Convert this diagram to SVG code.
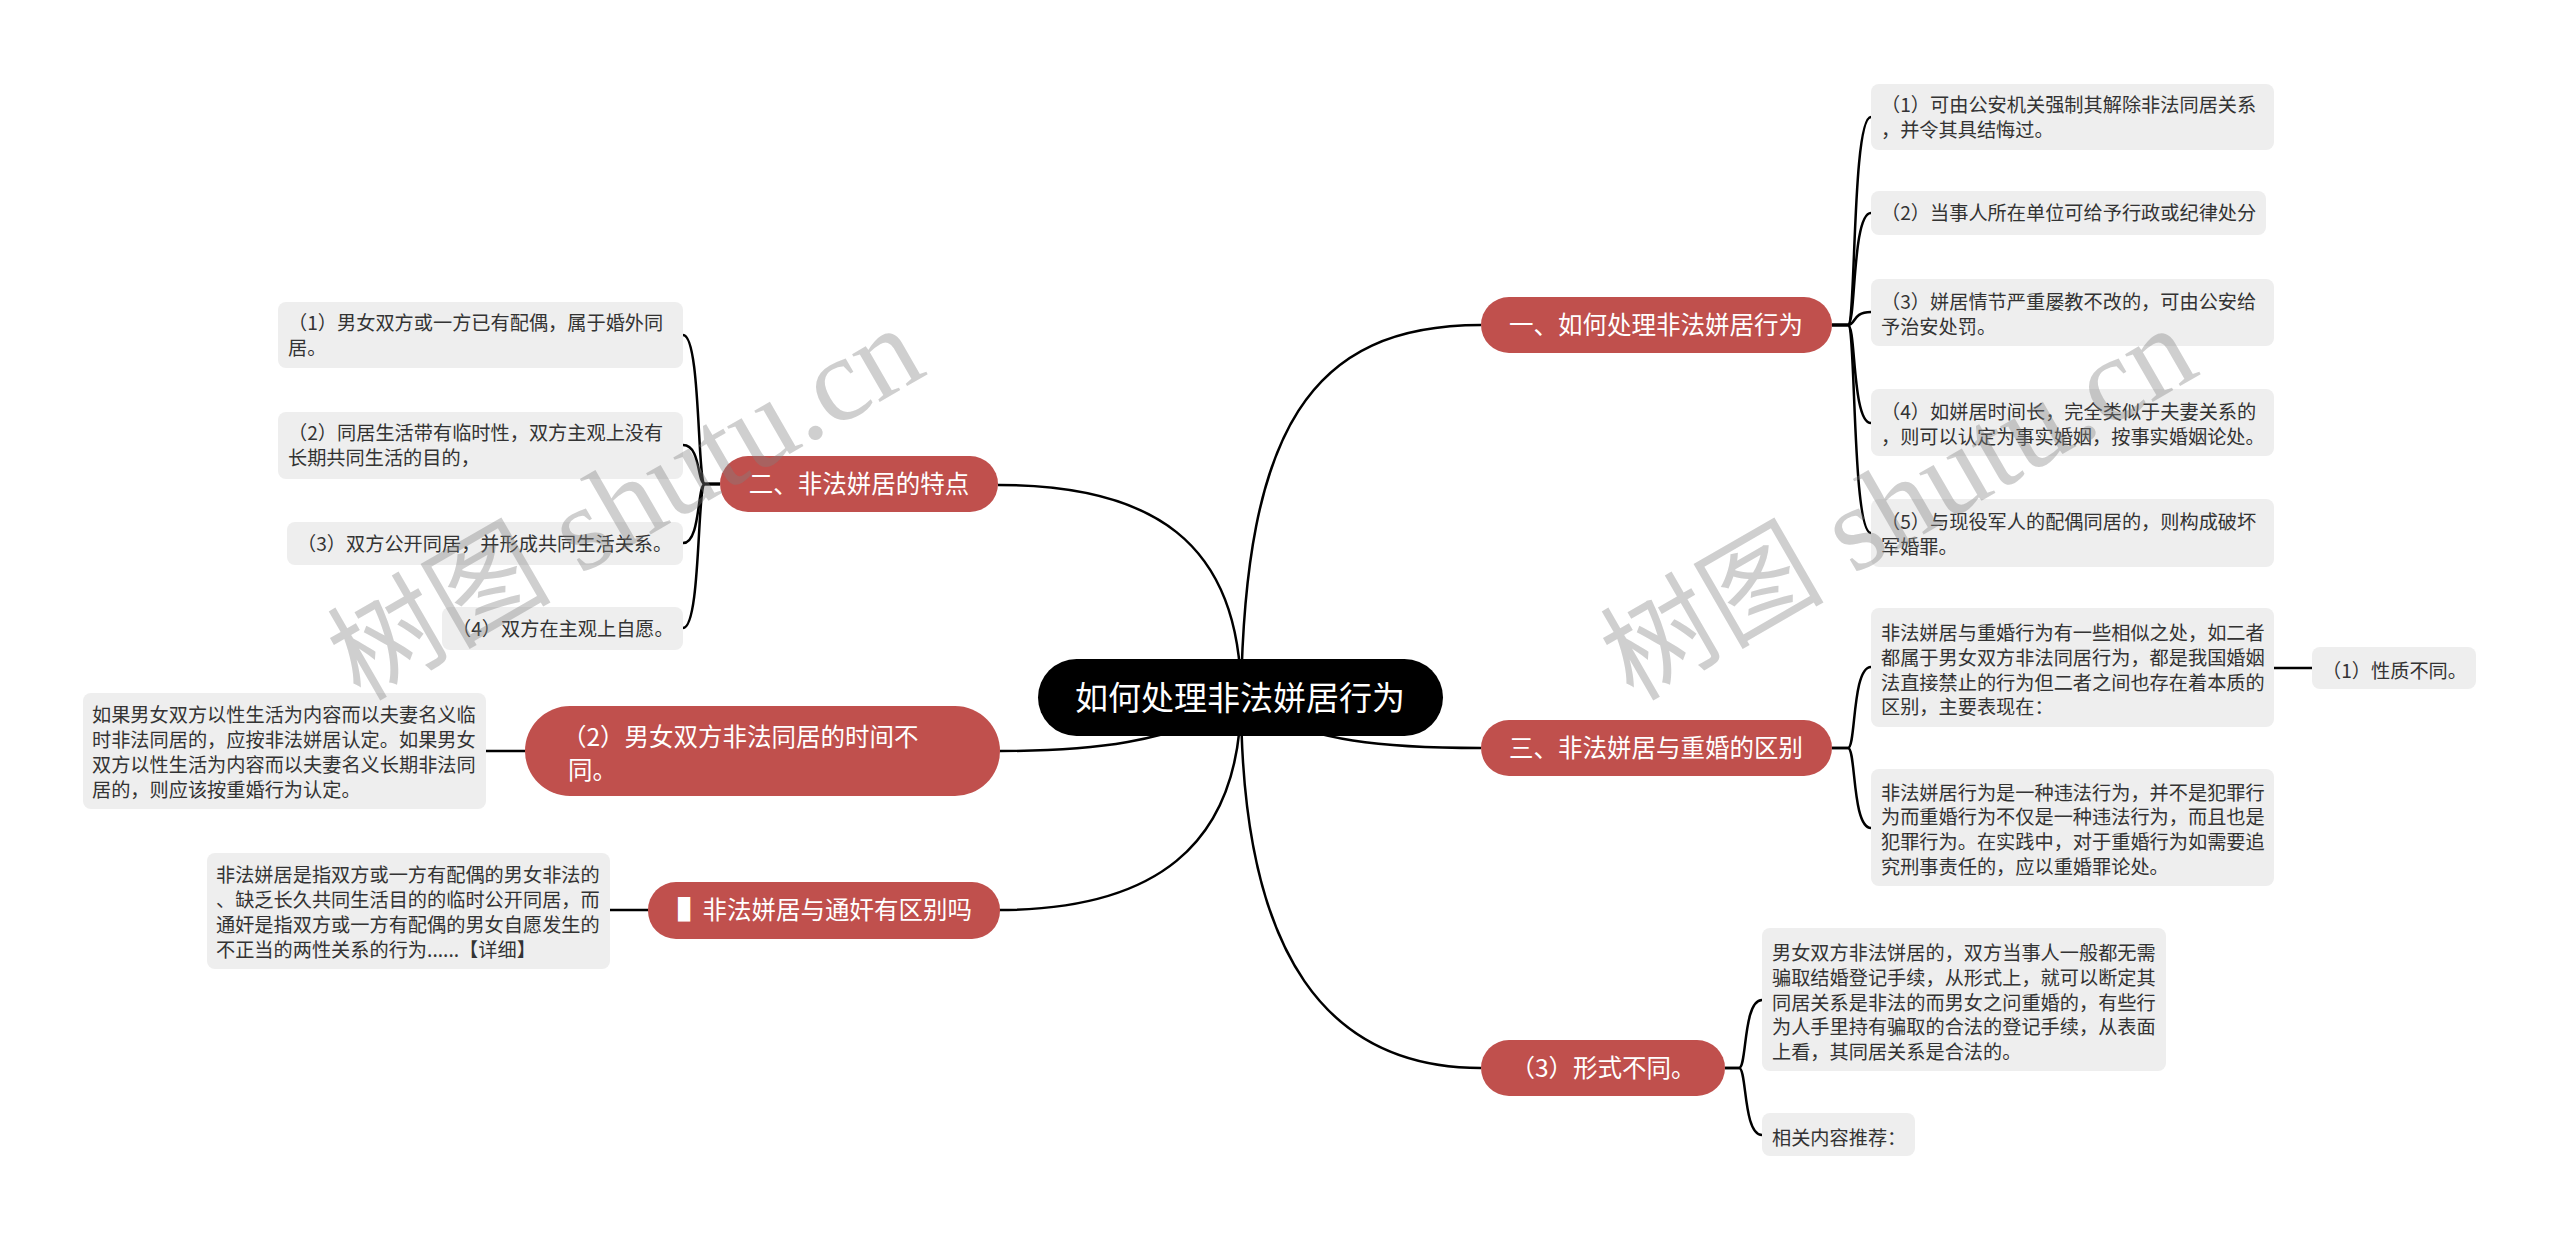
<svg xmlns="http://www.w3.org/2000/svg" width="2560" height="1240" viewBox="0 0 2560 1240">
<style>
.conn{fill:none;stroke:#000;stroke-width:2.5}
.root rect{fill:#000}
.main rect{fill:#C0504D}
.leaf rect{fill:#EEEEEE}
text{font-family:"Noto Sans CJK SC","Microsoft YaHei",sans-serif}
.rt{fill:#fff;font-size:33px;text-anchor:middle}
.mt{fill:#fff;font-size:24.5px;text-anchor:middle}
.ml{fill:#fff;font-size:24.5px}
.lt{fill:#333;font-size:19.2px}
.wm{fill:#808080;fill-opacity:0.38;font-family:"Liberation Serif","Noto Sans CJK SC",serif;font-size:120px}
.wm .cj{font-size:112px}
</style>
<rect width="2560" height="1240" fill="#fff"/>
<g id="connectors">
<path class="conn" d="M1241,697 C1245,430 1310,325 1481,325"/>
<path class="conn" d="M1241,697 C1241,540 1150,485 998,485"/>
<path class="conn" d="M1241,697 C1180,745 1080,751 1000,751"/>
<path class="conn" d="M1241,697 C1241,850 1150,910 998,910"/>
<path class="conn" d="M1241,697 C1300,745 1400,748 1481,748"/>
<path class="conn" d="M1241,697 C1241,960 1330,1068 1481,1068"/>
<path class="conn" d="M1832,325 H1848 C1856,325 1852,117 1871,117"/>
<path class="conn" d="M1832,325 H1848 C1856,325 1852,213 1871,213"/>
<path class="conn" d="M1832,325 H1848 C1856,325 1852,312 1871,312"/>
<path class="conn" d="M1832,325 H1848 C1856,325 1852,423 1871,423"/>
<path class="conn" d="M1832,325 H1848 C1856,325 1852,533 1871,533"/>
<path class="conn" d="M1832,748 H1848 C1856,748 1852,667 1871,667"/>
<path class="conn" d="M1832,748 H1848 C1856,748 1852,828 1871,828"/>
<path class="conn" d="M2274,668 H2312"/>
<path class="conn" d="M1725,1068 H1739 C1747,1068 1743,1000 1762,1000"/>
<path class="conn" d="M1725,1068 H1739 C1747,1068 1743,1135 1762,1135"/>
<path class="conn" d="M720,484 H705 C697,484 701,335 683,335"/>
<path class="conn" d="M720,484 H705 C697,484 701,445 683,445"/>
<path class="conn" d="M720,484 H705 C697,484 701,543 683,543"/>
<path class="conn" d="M720,484 H705 C697,484 701,628 683,628"/>
<path class="conn" d="M525,751 H486"/>
<path class="conn" d="M648,910 H610"/>
</g>
<g id="root" class="root">
<rect x="1038" y="659" width="405" height="77" rx="38.5"/>
<text class="rt" x="1240" y="710">如何处理非法姘居行为</text>
</g>
<g id="n1" class="main">
<rect x="1481" y="297" width="351" height="56" rx="28"/>
<text class="mt" x="1656" y="334">一、如何处理非法姘居行为</text>
</g>
<g id="n3" class="main">
<rect x="1481" y="720" width="351" height="56" rx="28"/>
<text class="mt" x="1656" y="757">三、非法姘居与重婚的区别</text>
</g>
<g id="nform" class="main">
<rect x="1481" y="1040" width="244" height="56" rx="28"/>
<text class="mt" x="1603" y="1077">（3）形式不同。</text>
</g>
<g id="n2" class="main">
<rect x="720" y="456" width="278" height="56" rx="28"/>
<text class="mt" x="859" y="493">二、非法姘居的特点</text>
</g>
<g id="ntime" class="main">
<rect x="525" y="706" width="475" height="90" rx="45"/>
<text class="ml" x="562" y="746">（2）男女双方非法同居的时间不</text>
<text class="ml" x="568" y="779">同。</text>
</g>
<g id="nadultery" class="main">
<rect x="648" y="882" width="352" height="57" rx="28"/>
<text class="ml" x="972" y="919" text-anchor="end">▌非法姘居与通奸有区别吗</text>
</g>
<g id="l1a" class="leaf">
<rect x="1871" y="84" width="403" height="66" rx="8"/>
<text class="lt" x="1881" y="112">（1）可由公安机关强制其解除非法同居关系</text>
<text class="lt" x="1881" y="137">，并令其具结悔过。</text>
</g>
<g id="l1b" class="leaf">
<rect x="1871" y="191" width="395" height="44" rx="8"/>
<text class="lt" x="1881" y="220">（2）当事人所在单位可给予行政或纪律处分</text>
</g>
<g id="l1c" class="leaf">
<rect x="1871" y="279" width="403" height="67" rx="8"/>
<text class="lt" x="1881" y="309">（3）姘居情节严重屡教不改的，可由公安给</text>
<text class="lt" x="1881" y="334">予治安处罚。</text>
</g>
<g id="l1d" class="leaf">
<rect x="1871" y="389" width="403" height="67" rx="8"/>
<text class="lt" x="1881" y="419">（4）如姘居时间长，完全类似于夫妻关系的</text>
<text class="lt" x="1881" y="444">，则可以认定为事实婚姻，按事实婚姻论处。</text>
</g>
<g id="l1e" class="leaf">
<rect x="1871" y="499" width="403" height="68" rx="8"/>
<text class="lt" x="1881" y="529">（5）与现役军人的配偶同居的，则构成破坏</text>
<text class="lt" x="1881" y="554">军婚罪。</text>
</g>
<g id="l3a" class="leaf">
<rect x="1871" y="608" width="403" height="119" rx="8"/>
<text class="lt" x="1881" y="640">非法姘居与重婚行为有一些相似之处，如二者</text>
<text class="lt" x="1881" y="665">都属于男女双方非法同居行为，都是我国婚姻</text>
<text class="lt" x="1881" y="690">法直接禁止的行为但二者之间也存在着本质的</text>
<text class="lt" x="1881" y="714">区别，主要表现在：</text>
</g>
<g id="l3a1" class="leaf">
<rect x="2312" y="647" width="164" height="42" rx="8"/>
<text class="lt" x="2322" y="678">（1）性质不同。</text>
</g>
<g id="l3b" class="leaf">
<rect x="1871" y="769" width="403" height="117" rx="8"/>
<text class="lt" x="1881" y="800">非法姘居行为是一种违法行为，并不是犯罪行</text>
<text class="lt" x="1881" y="824">为而重婚行为不仅是一种违法行为，而且也是</text>
<text class="lt" x="1881" y="849">犯罪行为。在实践中，对于重婚行为如需要追</text>
<text class="lt" x="1881" y="874">究刑事责任的，应以重婚罪论处。</text>
</g>
<g id="lfa" class="leaf">
<rect x="1762" y="928" width="404" height="143" rx="8"/>
<text class="lt" x="1772" y="960">男女双方非法饼居的，双方当事人一般都无需</text>
<text class="lt" x="1772" y="985">骗取结婚登记手续，从形式上，就可以断定其</text>
<text class="lt" x="1772" y="1010">同居关系是非法的而男女之问重婚的，有些行</text>
<text class="lt" x="1772" y="1034">为人手里持有骗取的合法的登记手续，从表面</text>
<text class="lt" x="1772" y="1059">上看，其同居关系是合法的。</text>
</g>
<g id="lfb" class="leaf">
<rect x="1762" y="1113" width="153" height="43" rx="8"/>
<text class="lt" x="1772" y="1145">相关内容推荐：</text>
</g>
<g id="l2a" class="leaf">
<rect x="278" y="302" width="405" height="66" rx="8"/>
<text class="lt" x="288" y="330">（1）男女双方或一方已有配偶，属于婚外同</text>
<text class="lt" x="288" y="355">居。</text>
</g>
<g id="l2b" class="leaf">
<rect x="278" y="412" width="405" height="67" rx="8"/>
<text class="lt" x="288" y="440">（2）同居生活带有临时性，双方主观上没有</text>
<text class="lt" x="288" y="465">长期共同生活的目的，</text>
</g>
<g id="l2c" class="leaf">
<rect x="287" y="522" width="396" height="43" rx="8"/>
<text class="lt" x="297" y="551">（3）双方公开同居，并形成共同生活关系。</text>
</g>
<g id="l2d" class="leaf">
<rect x="442" y="607" width="241" height="43" rx="8"/>
<text class="lt" x="452" y="636">（4）双方在主观上自愿。</text>
</g>
<g id="ltime" class="leaf">
<rect x="83" y="693" width="403" height="116" rx="8"/>
<text class="lt" x="92" y="722">如果男女双方以性生活为内容而以夫妻名义临</text>
<text class="lt" x="92" y="747">时非法同居的，应按非法姘居认定。如果男女</text>
<text class="lt" x="92" y="772">双方以性生活为内容而以夫妻名义长期非法同</text>
<text class="lt" x="92" y="797">居的，则应该按重婚行为认定。</text>
</g>
<g id="ladultery" class="leaf">
<rect x="207" y="853" width="403" height="116" rx="8"/>
<text class="lt" x="216" y="882">非法姘居是指双方或一方有配偶的男女非法的</text>
<text class="lt" x="216" y="907">、缺乏长久共同生活目的的临时公开同居，而</text>
<text class="lt" x="216" y="932">通奸是指双方或一方有配偶的男女自愿发生的</text>
<text class="lt" x="216" y="957">不正当的两性关系的行为......【详细】</text>
</g>
<g id="watermarks">
<text class="wm" x="360" y="702" transform="rotate(-30 360 702)"><tspan class="cj">树图</tspan> shutu.cn</text>
<text class="wm" x="1633" y="702" transform="rotate(-30 1633 702)"><tspan class="cj">树图</tspan> shutu.cn</text>
</g>
</svg>
